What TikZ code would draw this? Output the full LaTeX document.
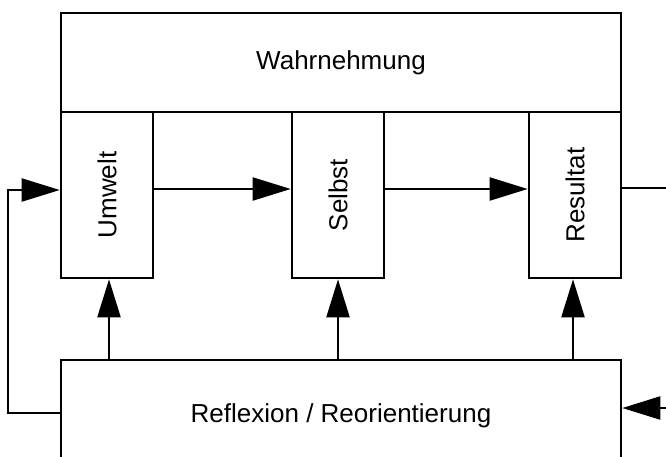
\documentclass[tikz,border=0pt]{standalone}
\usepackage{fontspec}
\setmainfont{Liberation Sans}
\usetikzlibrary{arrows.meta}

\begin{document}
\begin{tikzpicture}[x=1pt, y=-1pt, - > , >={Triangle[length=38pt, width=23pt]}, line width=2.2pt,
    box/.style={draw, line width=2.6pt, inner sep=0pt, font=\fontsize{26}{31}\selectfont},
    colbox/.style={box, minimum width=92pt, minimum height=166pt}]
   \useasboundingbox (0 , 0) rectangle (666 , 456);
   \clip (0 , 0) rectangle (666 , 456);
   \node [box, minimum width=560pt, minimum height=99pt] (wahr) at (341 , 62.5) {Wahrnehmung};
   \node [colbox] (umwelt) at (107 , 195) {\rotatebox{90}{Umwelt}};
   \node [colbox] (selbst) at (338 , 195) {\rotatebox{90}{Selbst}};
   \node [colbox] (resultat) at (575 , 195) {\rotatebox{90}{Resultat}};
   \node [box, minimum width=560pt, minimum height=112pt] (reflex) at (341 , 416) {Reflexion / Reorientierung};
   \coordinate (out) at (666 , 188);
   \coordinate (feed) at (666 , 408);

   \draw ([yshift=6pt]umwelt.east) -- ([yshift=6pt]selbst.west);
   \draw ([yshift=6pt]selbst.east) -- ([yshift=6pt]resultat.west);
   \draw [-] (resultat.east |- out) -- (out);
   \draw (feed) -- (reflex.east |- feed);
   \draw (reflex.west |- 0 , 413) -- ++(-52 , 0) |- ([yshift=5pt]umwelt.west);
   \draw ([xshift=2pt]umwelt.south |- reflex.north) -- ([xshift=2pt]umwelt.south);
   \draw (selbst.south |- reflex.north) -- (selbst.south);
   \draw ([xshift=-2pt]resultat.south |- reflex.north) -- ([xshift=-2pt]resultat.south);
\end{tikzpicture}
\end{document}
